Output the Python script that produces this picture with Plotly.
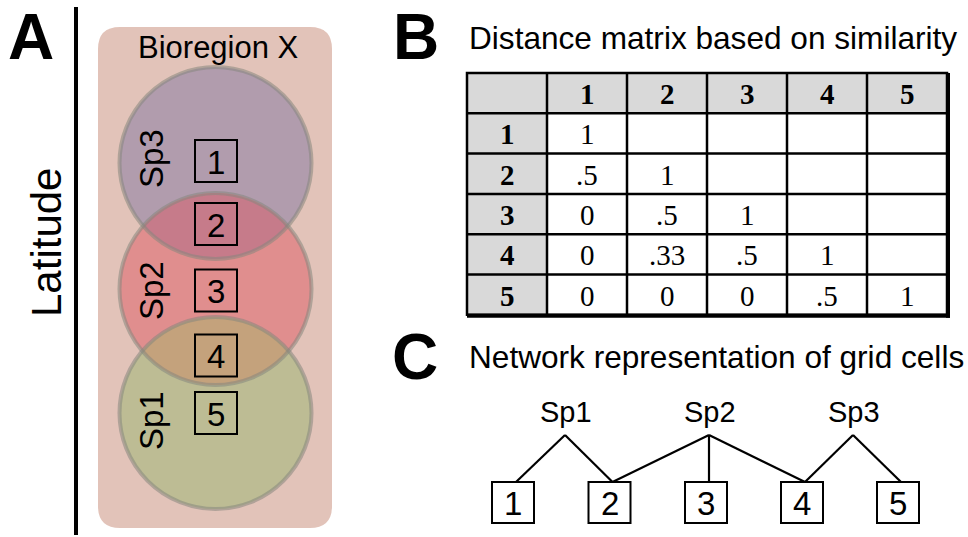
import numpy as np
import plotly.graph_objects as go

# ---------------- data ----------------
panel_letters = ["A", "B", "C"]
panel_titles = ["Distance matrix based on similarity", "Network representation of grid cells"]
bioregion_label = "Bioregion X"
axis_label = "Latitude"
species = ["Sp1", "Sp2", "Sp3"]
species_colors = {"Sp1": "#bdbc94", "Sp2": "#e08e8e", "Sp3": "#b19cad"}
overlap_pairs = [("Sp3", "Sp2"), ("Sp2", "Sp1")]
overlap_colors = ["#c67b8a", "#c4a27c"]
grid_cells = ["1", "2", "3", "4", "5"]
similarity = [
    [1, None, None, None, None],
    [0.5, 1, None, None, None],
    [0, 0.5, 1, None, None],
    [0, 0.33, 0.5, 1, None],
    [0, 0, 0, 0.5, 1],
]
network_edges = [("Sp1", "1"), ("Sp1", "2"), ("Sp2", "2"), ("Sp2", "3"),
                 ("Sp2", "4"), ("Sp3", "4"), ("Sp3", "5")]

# ---------------- layout constants (pixels) ----------------
W, H = 968, 537
SANS = "Liberation Sans, Arial, sans-serif"
SERIF = "Liberation Serif, Times New Roman, serif"

shapes = []
ann = []


def text(x, y, s, size, family=SANS, xanchor="center", yanchor="middle", angle=0, color="black"):
    ann.append(dict(x=x, y=y, xref="x", yref="y", text=s, showarrow=False,
                    font=dict(family=family, size=size, color=color),
                    xanchor=xanchor, yanchor=yanchor, textangle=angle))


def rect(x0, y0, x1, y1, line="black", width=2, fill="rgba(0,0,0,0)"):
    shapes.append(dict(type="rect", xref="x", yref="y", x0=x0, y0=y0, x1=x1, y1=y1,
                       line=dict(color=line, width=width), fillcolor=fill))


def seg(x0, y0, x1, y1, color="black", width=2):
    shapes.append(dict(type="line", xref="x", yref="y", x0=x0, y0=y0, x1=x1, y1=y1,
                       line=dict(color=color, width=width)))


# ---------------- panel A ----------------
text(31, 37, "<b>" + panel_letters[0] + "</b>", 64)
seg(76, 7, 76, 535, width=4)
text(46, 243, axis_label, 42, angle=-90)

# bioregion rounded rectangle
bx0, by0, bx1, by1, rr = 98, 27, 332, 528, 22
path = (f"M {bx0+rr},{by0} L {bx1-rr},{by0} Q {bx1},{by0} {bx1},{by0+rr} "
        f"L {bx1},{by1-rr} Q {bx1},{by1} {bx1-rr},{by1} L {bx0+rr},{by1} "
        f"Q {bx0},{by1} {bx0},{by1-rr} L {bx0},{by0+rr} Q {bx0},{by0} {bx0+rr},{by0} Z")
shapes.append(dict(type="path", xref="x", yref="y", path=path,
                   fillcolor="#e2c3b9", line=dict(width=0)))
text(218, 47, bioregion_label, 31)

cx, r = 215.5, 96
cy = {"Sp3": 163, "Sp2": 289, "Sp1": 413}
for sp in ["Sp3", "Sp2", "Sp1"]:
    shapes.append(dict(type="circle", xref="x", yref="y", x0=cx - r, x1=cx + r,
                       y0=cy[sp] - r, y1=cy[sp] + r, fillcolor=species_colors[sp],
                       line=dict(width=0)))

# overlap lenses
for (up, lo), col in zip(overlap_pairs, overlap_colors):
    ya, yb = cy[up], cy[lo]
    d = yb - ya
    h = np.sqrt(r ** 2 - (d / 2) ** 2)
    t = np.linspace(np.arctan2(d / 2, h), np.arctan2(d / 2, -h), 60)
    s = np.linspace(np.arctan2(-d / 2, -h), np.arctan2(-d / 2, h), 60)
    xs = np.concatenate([cx + r * np.cos(t), cx + r * np.cos(s)])
    ys = np.concatenate([ya + r * np.sin(t), yb + r * np.sin(s)])
    p = "M " + " L ".join(f"{a:.2f},{b:.2f}" for a, b in zip(xs, ys)) + " Z"
    shapes.append(dict(type="path", xref="x", yref="y", path=p, fillcolor=col,
                       line=dict(width=0)))

for sp in ["Sp3", "Sp2", "Sp1"]:
    shapes.append(dict(type="circle", xref="x", yref="y", x0=cx - r, x1=cx + r,
                       y0=cy[sp] - r, y1=cy[sp] + r, fillcolor="rgba(0,0,0,0)",
                       line=dict(width=4, color="rgba(135,135,125,0.55)")))

sp_label_y = {"Sp3": 159, "Sp2": 291, "Sp1": 421}
for sp in species:
    text(151, sp_label_y[sp], sp, 33, angle=-90)

a_cell_y = [161, 224, 290.5, 355.5, 413]
for c, yc in zip(grid_cells, a_cell_y):
    rect(195, yc - 21, 237, yc + 21)
    text(216, yc + 1, c, 33)

# ---------------- panel B ----------------
text(416, 37, "<b>" + panel_letters[1] + "</b>", 64)
text(467, 38, panel_titles[0], 31.6, xanchor="left")

tx = [467 + 80 * i for i in range(7)]
ty = [73, 113.3, 153.6, 194, 234.2, 274.5, 314.8]
# header shading
rect(tx[0], ty[0], tx[6], ty[1], line="rgba(0,0,0,0)", width=0, fill="#d9d9d9")
rect(tx[0], ty[1], tx[1], ty[6], line="rgba(0,0,0,0)", width=0, fill="#d9d9d9")
for xv in tx[1:6]:
    seg(xv, ty[0], xv, ty[6], width=2.5)
for yv in ty[1:6]:
    seg(tx[0], yv, tx[6], yv, width=2.5)
rect(tx[0], ty[0], tx[6], ty[6], width=2.5)
seg(tx[6] + 1, ty[0], tx[6] + 1, ty[6] + 3, width=4)
seg(tx[0], ty[6] + 1, tx[6] + 3, ty[6] + 1, width=4)


def fmt(v):
    if v is None:
        return ""
    if v == int(v):
        return str(int(v))
    return ("%g" % v).lstrip("0")


for j, c in enumerate(grid_cells):
    text((tx[j + 1] + tx[j + 2]) / 2, (ty[0] + ty[1]) / 2 + 1, "<b>" + c + "</b>", 29, family=SERIF)
    text((tx[0] + tx[1]) / 2, (ty[j + 1] + ty[j + 2]) / 2 + 1, "<b>" + c + "</b>", 29, family=SERIF)
for i in range(5):
    for j in range(5):
        s = fmt(similarity[i][j])
        if s:
            text((tx[j + 1] + tx[j + 2]) / 2, (ty[i + 1] + ty[i + 2]) / 2 + 1, s, 29, family=SERIF)

# ---------------- panel C ----------------
text(415, 357, "<b>" + panel_letters[2] + "</b>", 64)
text(467, 357, panel_titles[1], 31.6, xanchor="left")

sp_x = {"Sp1": 565, "Sp2": 709, "Sp3": 853}
cell_x = {"1": 513, "2": 609.5, "3": 706, "4": 802, "5": 898}
apex_y, top_y, bot_y = 435, 482, 523
for sp in species:
    text(sp_x[sp] + 1, 412, sp, 29)
for sp, c in network_edges:
    seg(sp_x[sp], apex_y, cell_x[c] + 3, top_y, width=2.2)
for c in grid_cells:
    rect(cell_x[c] - 21, top_y, cell_x[c] + 21, bot_y, fill="white")
    text(cell_x[c], (top_y + bot_y) / 2 + 1, c, 33)

fig = go.Figure()
fig.add_trace(go.Scatter(x=[0], y=[0], mode="markers", marker=dict(opacity=0),
                         hoverinfo="skip", showlegend=False))
fig.update_layout(width=W, height=H, margin=dict(l=0, r=0, t=0, b=0),
                  paper_bgcolor="white", plot_bgcolor="white",
                  xaxis=dict(range=[0, W], visible=False, fixedrange=True),
                  yaxis=dict(range=[H, 0], visible=False, fixedrange=True),
                  shapes=shapes, annotations=ann, showlegend=False)
fig.write_html("out.html", config={"displayModeBar": False},
               post_script="document.body.style.margin='0';document.body.style.overflow='hidden';")
